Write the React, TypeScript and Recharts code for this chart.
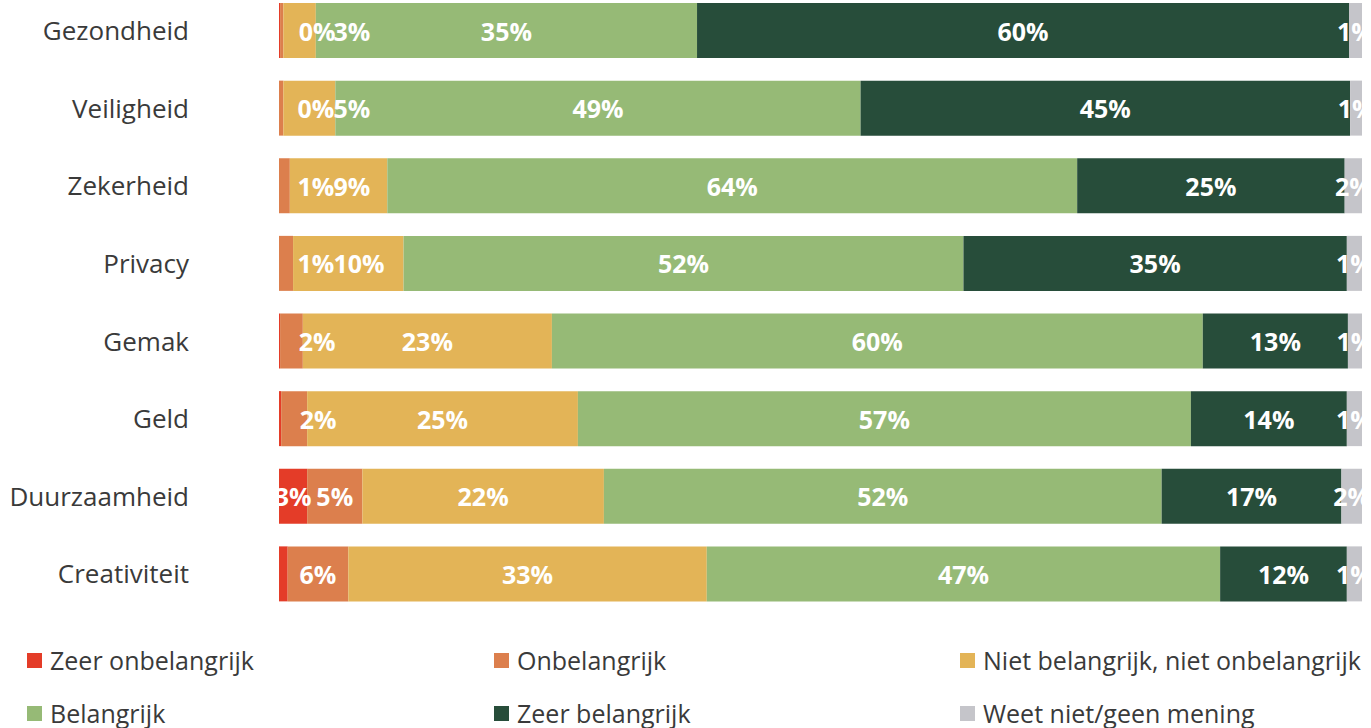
import React from 'react';
import { BarChart, Bar, XAxis, YAxis, LabelList } from 'recharts';

const categories = ['Gezondheid', 'Veiligheid', 'Zekerheid', 'Privacy', 'Gemak', 'Geld', 'Duurzaamheid', 'Creativiteit'];

const zeerOnbelangrijk = [0.1, 0, 0, 0, 0.1, 0.2, 2.6, 0.8];
const onbelangrijk = [0.3, 0.4, 1.0, 1.3, 2.1, 2.4, 5.1, 5.6];
const neutraal = [3.0, 4.8, 9.0, 10.2, 23.0, 25.0, 22.3, 33.1];
const belangrijk = [35.2, 48.5, 63.7, 51.7, 60.1, 56.6, 51.5, 47.4];
const zeerBelangrijk = [60.2, 45.2, 24.7, 35.4, 13.4, 14.4, 16.6, 11.7];
const weetNiet = [1.2, 1.1, 1.6, 1.4, 1.3, 1.4, 1.9, 1.4];

const series = [
  { key: 'zeerOnb', name: 'Zeer onbelangrijk', color: '#E43C28', values: zeerOnbelangrijk },
  { key: 'onb', name: 'Onbelangrijk', color: '#DC7F4D', values: onbelangrijk },
  { key: 'neutraal', name: 'Niet belangrijk, niet onbelangrijk', color: '#E3B457', values: neutraal },
  { key: 'bel', name: 'Belangrijk', color: '#96BA76', values: belangrijk },
  { key: 'zeerBel', name: 'Zeer belangrijk', color: '#274D3A', values: zeerBelangrijk },
  { key: 'weetNiet', name: 'Weet niet/geen mening', color: '#C5C5CA', values: weetNiet },
];

const data = categories.map((cat, i) => {
  const row: any = { cat };
  series.forEach((s) => (row[s.key] = s.values[i]));
  return row;
});

const FONT = '"Open Sans", sans-serif';
// rough width of a bold 25px percentage label
const textW = (t: string) => (t.length - 1) * 14 + 22;

const makeLabel = (key: string) => (props: any) => {
  const { x, y, width, height, value, index } = props;
  if (value == null) return null;
  if (key === 'zeerOnb' && value < 1.5) return null;
  const txt = `${Math.round(value)}%`;
  let cx = x + width / 2;
  if (key === 'onb' && width < 30) {
    cx = x + 37;
  }
  if (key === 'neutraal' && value > 0) {
    // push the label right when the narrow orange label sits next to it
    const scale = width / value;
    const row = data[index];
    const rowStart = x - (row.zeerOnb + row.onb) * scale;
    if (row.onb * scale < 30) {
      const minC = rowStart + 37 + textW('0%') / 2 + textW(txt) / 2;
      cx = Math.max(cx, minC);
    }
  }
  return (
    <text
      x={cx}
      y={y + height / 2}
      textAnchor="middle"
      dominantBaseline="central"
      fill="#ffffff"
      fontFamily={FONT}
      fontWeight={700}
      fontSize={25}
    >
      {txt}
    </text>
  );
};

export default function App() {
  return (
    <div style={{ position: 'absolute', left: 0, top: 0, width: 1371, height: 728, overflow: 'hidden', background: '#fff' }}>
      <div style={{ position: 'absolute', left: 0, top: -8 }}>
        <BarChart
          width={1371}
          height={621}
          data={data}
          layout="vertical"
          margin={{ top: 0, right: 9, bottom: 0, left: 0 }}
          barSize={55}
        >
          <XAxis type="number" domain={[0, 100]} hide />
          <YAxis
            type="category"
            dataKey="cat"
            width={279}
            axisLine={false}
            tickLine={false}
            tickSize={0}
            tickMargin={90}
            tick={{ fill: '#3a3a3a', fontSize: 26, fontFamily: FONT }}
          />
          {series.map((s) => (
            <Bar key={s.key} dataKey={s.key} stackId="a" fill={s.color} isAnimationActive={false}>
              <LabelList dataKey={s.key} content={makeLabel(s.key)} />
            </Bar>
          ))}
        </BarChart>
      </div>
      <div style={{ position: 'absolute', left: 0, top: 636, width: 1371 }}>
        {series.map((s, i) => {
          const col = i % 3;
          const rowI = Math.floor(i / 3);
          const left = [27, 494, 960][col];
          const top = rowI * 53;
          return (
            <div
              key={s.key}
              style={{
                position: 'absolute',
                left,
                top,
                height: 48,
                display: 'flex',
                alignItems: 'center',
                fontFamily: FONT,
                fontSize: 25,
                color: '#3a3a3a',
                whiteSpace: 'nowrap',
              }}
            >
              <span style={{ display: 'inline-block', width: 15, height: 15, background: s.color, marginRight: 8 }} />
              {s.name}
            </div>
          );
        })}
      </div>
    </div>
  );
}
